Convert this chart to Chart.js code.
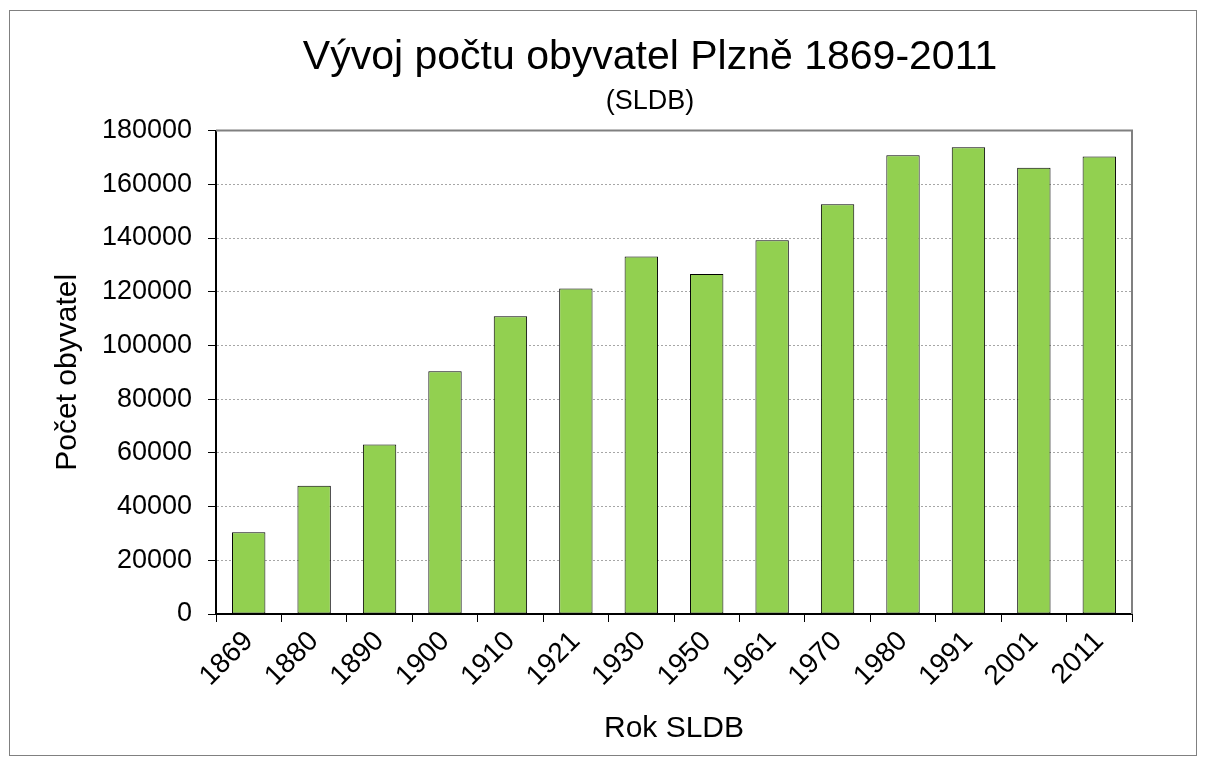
<!DOCTYPE html>
<html>
<head>
<meta charset="utf-8">
<title>Vývoj počtu obyvatel Plzně</title>
<script src="https://cdn.jsdelivr.net/npm/chart.js@4/dist/chart.umd.min.js"></script>
<style>
  body { margin: 0; background: #fff; }
  canvas { display: block; }
</style>
</head>
<body>
<canvas id="myChart" width="1205" height="765"></canvas>
<script>
const years = ['1869', '1880', '1890', '1900', '1910', '1921', '1930', '1950', '1961', '1970', '1980', '1991', '2001', '2011'];
const population = [30400, 47800, 63100, 90400, 110900, 121200, 133100, 126600, 139200, 152600, 170800, 173800, 166200, 170400];
const yTicks = [0, 20000, 40000, 60000, 80000, 100000, 120000, 140000, 160000, 180000];

const fontFamily = '"Liberation Sans", Arial, sans-serif';

// the original centres its title a bit right of the canvas middle
const titleShift = {
  id: 'titleShift',
  afterLayout(chart) {
    chart.boxes.forEach(b => {
      if (b.position === 'top' && b.options && b.options.text !== undefined) {
        b.left = 168;
        b.right = 1132;
        b.width = 1132 - 168;
      }
    });
  }
};

// frame round the whole picture and the grey top/right edge of the plot
const frame = {
  id: 'frame',
  afterDraw(chart) {
    const ctx = chart.ctx;
    const a = chart.chartArea;
    ctx.save();
    ctx.strokeStyle = '#808080';
    ctx.lineWidth = 1;
    ctx.strokeRect(9.5, 10.5, 1187, 745);
    ctx.lineWidth = 2;
    ctx.beginPath();
    ctx.moveTo(a.left, a.top);
    ctx.lineTo(a.right, a.top);
    ctx.lineTo(a.right, a.bottom);
    ctx.stroke();
    ctx.restore();
  }
};

const renderChart = (labels, data) => {
  const ctx = document.getElementById('myChart');
  new Chart(ctx, {
    type: 'bar',
    data: {
      labels: labels,
      datasets: [{
        label: 'Počet obyvatel',
        data: data,
        backgroundColor: '#92D050',
        borderColor: '#000',
        borderWidth: 1,
        borderSkipped: false,
        categoryPercentage: 0.51,
        barPercentage: 1
      }]
    },
    options: {
      responsive: false,
      animation: false,
      devicePixelRatio: 1,
      layout: {
        padding: { left: 0, right: 73, top: 0, bottom: 0 }
      },
      scales: {
        x: {
          offset: true,
          grid: {
            offset: true,
            drawOnChartArea: false,
            drawTicks: true,
            tickLength: 8,
            tickColor: '#000'
          },
          border: { color: '#000', width: 2 },
          ticks: {
            color: '#000',
            font: { family: fontFamily, size: 28 },
            minRotation: 45,
            maxRotation: 45,
            padding: 3
          },
          title: {
            display: true,
            text: 'Rok SLDB',
            color: '#000',
            font: { family: fontFamily, size: 30 },
            padding: { top: 4, bottom: 18 }
          },
          afterFit: (scale) => { scale.height = 151; }
        },
        y: {
          min: 0,
          max: 180000,
          afterBuildTicks: (scale) => {
            scale.ticks = yTicks.map(v => ({ value: v }));
          },
          grid: {
            color: '#a6a6a6',
            tickColor: '#000',
            tickLength: 8,
            tickBorderDash: []
          },
          border: { color: '#000', width: 2, dash: [2, 2] },
          ticks: {
            color: '#000',
            font: { family: fontFamily, size: 27 },
            padding: 16,
            callback: (v) => String(v)
          },
          title: {
            display: true,
            text: 'Počet obyvatel',
            color: '#000',
            font: { family: fontFamily, size: 30 },
            padding: { top: 50, bottom: 4 }
          },
          afterFit: (scale) => { scale.width = 216; }
        }
      },
      plugins: {
        legend: { display: false },
        tooltip: { enabled: false },
        title: {
          display: true,
          text: 'Vývoj počtu obyvatel Plzně 1869-2011',
          color: '#000',
          font: { family: fontFamily, size: 41, weight: 'normal' },
          padding: { top: 33, bottom: 0 }
        },
        subtitle: {
          display: true,
          text: '(SLDB)',
          color: '#000',
          font: { family: fontFamily, size: 27, weight: 'normal' },
          padding: { top: 3, bottom: 13 }
        }
      }
    },
    plugins: [titleShift, frame]
  });
};

renderChart(years, population);
</script>
</body>
</html>
